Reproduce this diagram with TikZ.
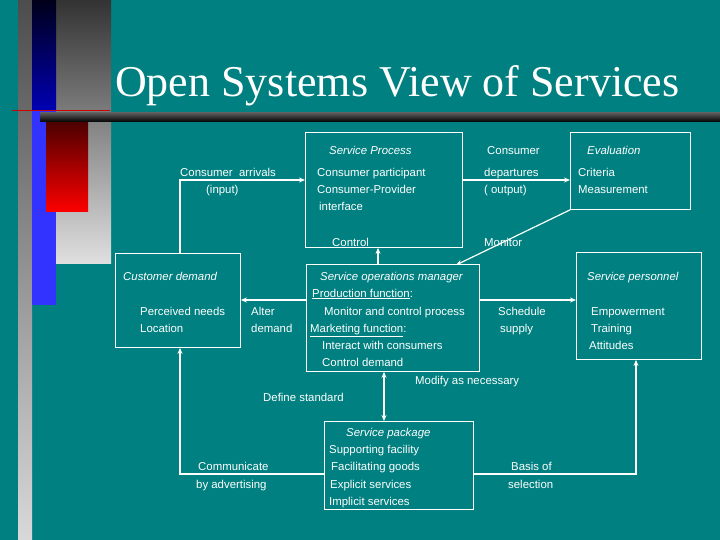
\documentclass[tikz,border=0pt]{standalone}
\usepackage{fontspec}
\setmainfont{Liberation Sans}
\newfontfamily\titlefont{Liberation Serif}
\usetikzlibrary{arrows.meta}
\definecolor{bg}{HTML}{008080}
\begin{document}
\begin{tikzpicture}[x=1pt,y=-1pt,
  box/.style={draw=white,line width=0.9pt},
  lbl/.style={anchor=base west,inner sep=0pt,text=white,font=\fontsize{11.4}{12}\selectfont},
  ilbl/.style={lbl,font=\fontsize{11.4}{12}\selectfont\itshape},
  conn/.style={draw=white,line width=1.2pt,-{Stealth[length=6pt,width=5pt]}},
  line/.style={draw=white,line width=1.2pt}]
\useasboundingbox (0,0) rectangle (720,540);
\fill[bg] (0,0) rectangle (720,540);
% left decoration
\shade[top color=gray!60!black,bottom color=gray!30] (18,0) rectangle (32,540);
\shade[top color=black!60!gray,bottom color=gray!25] (56,0) rectangle (111,263);
\shade[top color=black!90!blue,bottom color=blue!70!black] (32,0) rectangle (56,110);
\fill[blue!80!white] (32,110) rectangle (56,305);
\shade[top color=black!70!red,bottom color=red] (46,122) rectangle (88,212);
\fill[red!80!black] (12,110) rectangle (110,111.5);
\shade[top color=gray!70!black,bottom color=black] (40,113) rectangle (720,122);
\node[anchor=base west,inner sep=0pt,text=white,font=\titlefont\fontsize{44}{48}\selectfont] (title) at (115,97) {Open Systems View of Services};
% boxes
\node[box,anchor=north west,inner sep=0pt,minimum width=157pt,minimum height=115pt] (sp) at (305,132) {};
\node[box,anchor=north west,inner sep=0pt,minimum width=120pt,minimum height=77pt] (ev) at (570,132) {};
\node[box,anchor=north west,inner sep=0pt,minimum width=125pt,minimum height=94pt] (cd) at (115,253) {};
\node[box,anchor=north west,inner sep=0pt,minimum width=173pt,minimum height=107pt] (om) at (306,264) {};
\node[box,anchor=north west,inner sep=0pt,minimum width=125pt,minimum height=107pt] (pe) at (576,252) {};
\node[box,anchor=north west,inner sep=0pt,minimum width=149pt,minimum height=88pt] (pk) at (324,421) {};
% connectors
\draw[conn] (cd.north -| 180,0) |- (sp.west |- 0,180);
\draw[conn] (sp.east |- 0,180) -- (ev.west |- 0,180);
\draw[conn] (om.north -| 378,0) -- (sp.south -| 378,0);
\coordinate (monend) at (456,265);
\draw[conn] (ev.south west) -- (monend);
\draw[conn] (om.west |- 0,300) -- (cd.east |- 0,300);
\draw[conn] (om.east |- 0,300) -- (pe.west |- 0,300);
\draw[line,{Stealth[length=6pt,width=5pt]}-{Stealth[length=6pt,width=5pt]}] (om.south -| 384,0) -- (pk.north -| 384,0);
\draw[conn] (pk.west |- 0,474) -| (cd.south -| 180,0);
\draw[conn] (pk.east |- 0,474) -| (pe.south -| 636,0);
% labels
\node[ilbl] (t1) at (329,155) {Service Process};
\node[lbl] (t2) at (317,177) {Consumer participant};
\node[lbl] (t3) at (317,194) {Consumer-Provider};
\node[lbl] (t4) at (319,211) {interface};
\node[lbl] (t5) at (487,155) {Consumer};
\node[lbl] (t6) at (484,177) {departures};
\node[lbl] (t7) at (484,194) {( output)};
\node[ilbl] (t8) at (587,155) {Evaluation};
\node[lbl] (t9) at (578,177) {Criteria};
\node[lbl] (t10) at (578,194) {Measurement};
\node[lbl] (t11) at (180,177) {Consumer\ \ arrivals};
\node[lbl] (t12) at (206,194) {(input)};
\node[lbl] (t13) at (332,246) {Control};
\node[lbl] (t14) at (484,246) {Monitor};
\node[ilbl] (t15) at (123,280) {Customer demand};
\node[lbl] (t16) at (140,315) {Perceived needs};
\node[lbl] (t17) at (140,332) {Location};
\node[lbl] (t18) at (251,315) {Alter};
\node[lbl] (t19) at (251,332) {demand};
\node[ilbl] (t20) at (320,280) {Service operations manager};
\node[lbl] (t21) at (312,297) {\underline{Production function}:};
\node[lbl] (t22) at (324,315) {Monitor and control process};
\node[lbl] (t23) at (310,332) {\underline{Marketing function}:};
\node[lbl] (t24) at (322,349) {Interact with consumers};
\node[lbl] (t25) at (322,366) {Control demand};
\node[lbl] (t26) at (498,315) {Schedule};
\node[lbl] (t27) at (500,332) {supply};
\node[ilbl] (t28) at (587,280) {Service personnel};
\node[lbl] (t29) at (591,315) {Empowerment};
\node[lbl] (t30) at (591,332) {Training};
\node[lbl] (t31) at (589,349) {Attitudes};
\node[lbl] (t32) at (415,384) {Modify as necessary};
\node[lbl] (t33) at (263,401) {Define standard};
\node[ilbl] (t34) at (346,436) {Service package};
\node[lbl] (t35) at (329,453) {Supporting facility};
\node[lbl] (t36) at (331,470) {Facilitating goods};
\node[lbl] (t37) at (330,488) {Explicit services};
\node[lbl] (t38) at (329,505) {Implicit services};
\node[lbl] (t39) at (198,470) {Communicate};
\node[lbl] (t40) at (196,488) {by advertising};
\node[lbl] (t41) at (511,470) {Basis of};
\node[lbl] (t42) at (508,488) {selection};
\end{tikzpicture}
\end{document}
